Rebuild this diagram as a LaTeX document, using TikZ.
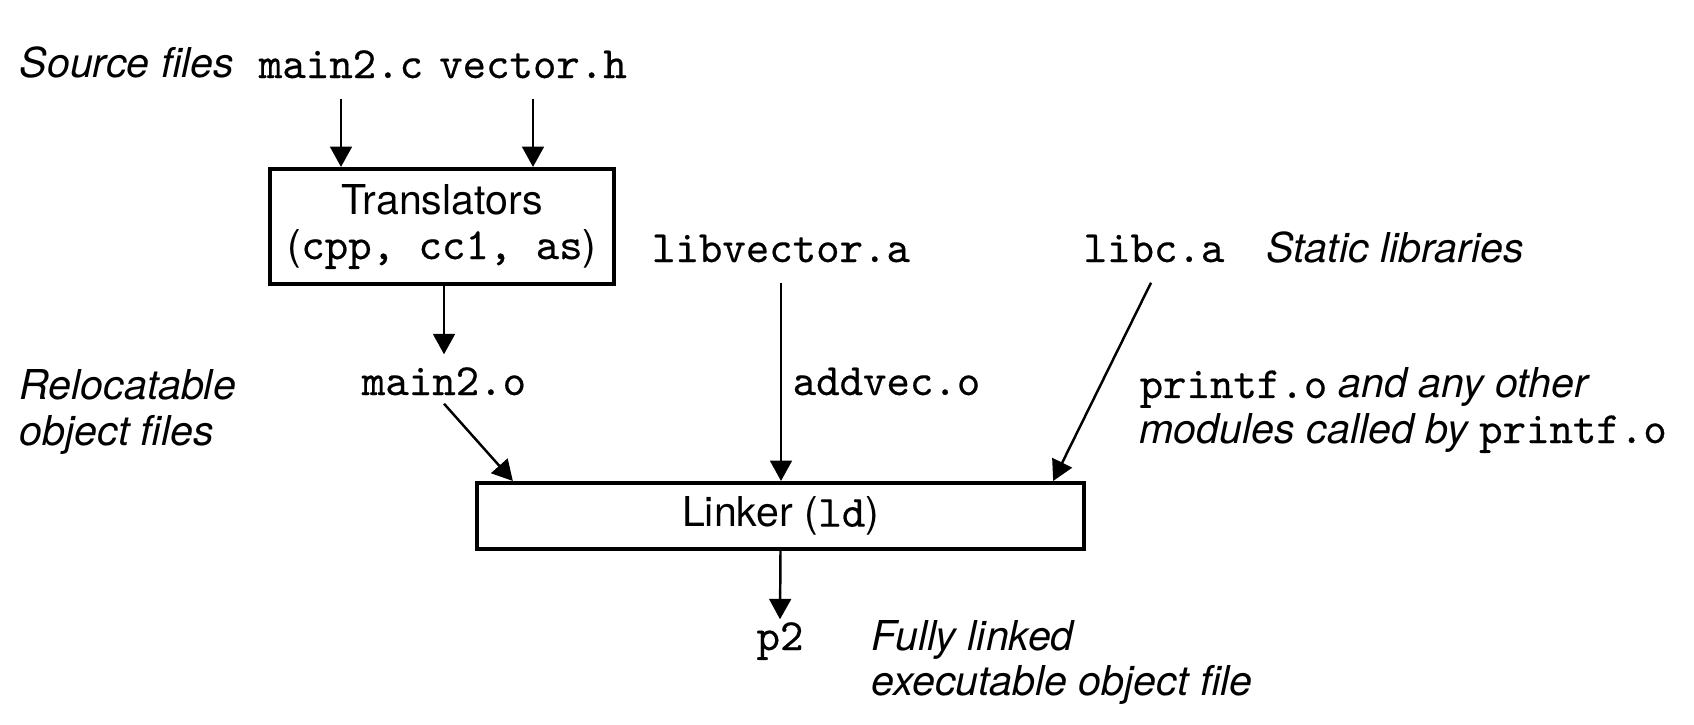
\documentclass[tikz,border=0pt]{standalone}
\usepackage{fontspec}
\setmainfont{TeX Gyre Heros}
\setmonofont{lmmono10-regular}[Extension=.otf, FakeBold=0.4]
\usetikzlibrary{arrows.meta,positioning}
\newcommand{\mono}[1]{{\fontsize{12.7}{12.8}\selectfont\ttfamily\upshape #1}}

\begin{document}
\begin{tikzpicture}[x=0.01cm, y=-0.01cm,
  lbl/.style={font=\fontsize{11.7}{12.8}\selectfont\itshape, inner sep=0pt, anchor=base west, align=left},
  file/.style={font=\fontsize{12.7}{12.8}\selectfont\ttfamily, inner sep=0.14cm, text height=0.26cm, text depth=0.06cm, anchor=base},
  stage/.style={draw, line width=1.14pt, font=\fontsize{11.7}{12.8}\selectfont, align=center, inner sep=0pt},
  arr/.style={-{Triangle[length=5.8pt,width=6.2pt]}, line width=0.7pt}]
\useasboundingbox (0,0) rectangle (1694,724);
\node[lbl] (srclbl) at (19,77) {Source files};
\node[file] (mainc) at (341,78) {main2.c};
\node[file] (vech) at (533,78) {vector.h};
\node[stage, minimum width=3.44cm, minimum height=1.15cm] (trans) at (442,226.5) {Translators\\(\mono{cpp, cc1, as})};
\node[file] (libvec) at (781,262) {libvector.a};
\node[file] (libc) at (1154,262) {libc.a};
\node[lbl] (statlbl) at (1266,262) {Static libraries};
\node[file] (maino) at (444,395) {main2.o};
\node[lbl] (rellbl) at (19,445) {Relocatable\\object files};
\node[file, anchor=base west, inner sep=0pt] (addvec) at (792,395) {addvec.o};
\node[lbl] (printflbl) at (1139,443) {\mono{printf.o} and any other\\modules called by \mono{printf.o}};
\node[stage, minimum width=6.07cm, minimum height=0.66cm] (linker) at (780.5,516) {Linker (\mono{ld})};
\node[file] (ptwo) at (780,650) {p2};
\node[lbl] (outlbl) at (871,695) {Fully linked\\executable object file};

\draw[arr] (mainc.south) -- (mainc.south |- trans.north);
\draw[arr] (vech.south) -- (vech.south |- trans.north);
\draw[arr] (trans.south -| maino) -- (maino.north);
\draw[arr] ([yshift=0.12cm]maino.south) -- ([xshift=0.38cm]linker.north west);
\draw[arr] (libvec.south) -- (libvec.south |- linker.north);
\draw[arr] ([xshift=-0.03cm]libc.south) -- ([xshift=-0.33cm]linker.north east);
\draw[arr] (linker.south) -- ([yshift=-0.1cm]ptwo.north);
\end{tikzpicture}
\end{document}
